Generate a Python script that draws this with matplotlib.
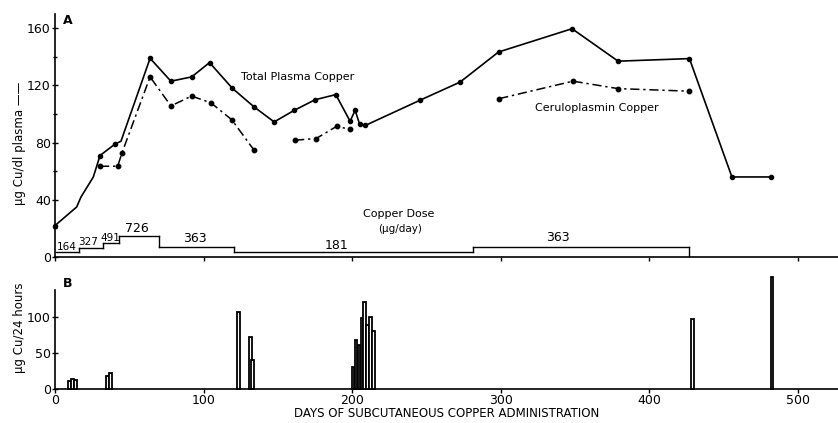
import matplotlib
matplotlib.use("Agg")
import matplotlib.pyplot as plt
import numpy as np

# ---------------- data ----------------
total_day = [0, 14.6, 17.5, 25.8, 30.3, 40.4, 44.4, 64, 78, 92, 104, 119.4, 134, 147.5,
             161, 175, 189, 198.6, 202, 205, 208.8, 245.5, 272.7, 298.5, 348, 379, 427, 455.6, 482]
total_val = [22, 35, 42, 56, 71, 79, 81, 139, 123, 126, 136, 118, 105, 94.5,
             102.6, 110, 113.6, 95, 102.6, 93, 92, 109.6, 122.4, 143.4, 159.7, 137, 138.8, 56, 56]
total_marked = [0, 30.3, 40.4, 64, 78, 92, 104, 119.4, 134, 147.5, 161, 175, 189, 198.6,
                202, 205, 208.8, 245.5, 272.7, 298.5, 348, 379, 427, 455.6, 482]

cerulo_seg1_day = [30.3, 42.2, 45, 64, 78, 92, 105, 119, 134]
cerulo_seg1_val = [63.5, 63.5, 72.6, 126, 105.7, 112.6, 107.8, 96, 74.7]
cerulo_seg2_day = [161.6, 175.8, 189.7, 198.6]
cerulo_seg2_val = [81.7, 82.9, 91.5, 89.2]
cerulo_seg3_day = [299, 348.6, 379, 427]
cerulo_seg3_val = [110.8, 123, 117.8, 116]

dose_start = [1, 16.4, 32, 43.3, 70.2, 120.7, 281]
dose_end = [16.4, 32, 43.3, 70.2, 120.7, 281, 427]
dose_ug = [164, 327, 491, 726, 363, 181, 363]
dose_label_day = [7.6, 22.5, 37.6, 55, 94.3, 189.7, 338.7]
dose_label_val = [7.2, 10.3, 13.5, 19.6, 12.6, 7.9, 13.3]
dose_labels = ["164", "327", "491", "726", "363", "181", "363"]

urine_day = [10, 12, 14, 35.5, 37.5, 123.4, 131.6, 133.2,
             200.6, 202.6, 204.6, 206.6, 208.2, 210.2, 212.3, 214.4, 429, 482.6]
urine_val = [10, 13, 12, 18, 21, 107, 72, 40,
             30, 68, 60, 98, 120, 88, 100, 80, 97, 155]

xticks = [0, 100, 200, 300, 400, 500]

# ---------------- figure ----------------
plt.rcParams['font.family'] = ['DejaVu Sans']
fig = plt.figure(figsize=(8.38, 4.23), dpi=100)
W, H = 838, 423
x0 = 55 / W
axA = fig.add_axes([x0, 1 - 257 / H, 1 - x0, (257 - 14) / H])
axB = fig.add_axes([x0, 1 - 388.5 / H, 1 - x0, (388.5 - 290) / H])

XMAX = 527
for ax in (axA, axB):
    ax.set_xlim(0, XMAX)
    ax.spines['top'].set_visible(False)
    ax.spines['right'].set_visible(False)
    ax.spines['left'].set_linewidth(1.2)
    ax.spines['bottom'].set_linewidth(1.2)
    ax.set_xticks(xticks)
    ax.tick_params(axis='both', labelsize=9, width=1, length=4, direction='inout', pad=1)

# Panel A
axA.set_ylim(0, 170)
axA.set_yticks([0, 40, 80, 120, 160])
axA.set_yticks([20, 60, 100, 140], minor=True)
axA.tick_params(axis='y', which='minor', length=3, direction='inout', width=1)
axA.tick_params(axis='x', labelbottom=False, direction='out', length=3)

axA.plot(total_day, total_val, color='black', lw=1.2, clip_on=False, zorder=3)
mk_idx = [total_day.index(d) for d in total_marked]
axA.plot([total_day[i] for i in mk_idx], [total_val[i] for i in mk_idx], ls='none',
         marker='o', ms=3, color='black', clip_on=False, zorder=4)
for dd, vv in ((cerulo_seg1_day, cerulo_seg1_val), (cerulo_seg2_day, cerulo_seg2_val),
               (cerulo_seg3_day, cerulo_seg3_val)):
    axA.plot(dd, vv, color='black', lw=1.1, ls=(0, (6, 2.5, 1.5, 2.5)),
             marker='o', ms=3.2, zorder=3)

# dose step line
scale = 50.0
for s, e, d in zip(dose_start, dose_end, dose_ug):
    axA.plot([s, e], [d / scale, d / scale], color='black', lw=1.0)
for i in range(len(dose_ug) - 1):
    if dose_end[i] == dose_start[i + 1]:
        axA.plot([dose_end[i], dose_end[i]], [dose_ug[i] / scale, dose_ug[i + 1] / scale],
                 color='black', lw=1.0)
axA.plot([dose_end[-1], dose_end[-1]], [dose_ug[-1] / scale, 0], color='black', lw=1.0)
label_sizes = [7.5, 7.5, 7.5, 9, 9, 9, 9]
for x, y, t, fs in zip(dose_label_day, dose_label_val, dose_labels, label_sizes):
    axA.text(x, y, t, ha='center', va='center', fontsize=fs)

axA.text(8.8, 165.6, "A", fontsize=9, fontweight='bold', ha='center', va='center')
axA.text(163.6, 125.7, "Total Plasma Copper", fontsize=8, ha='center', va='center')
axA.text(365, 104, "Ceruloplasmin Copper", fontsize=8, ha='center', va='center')
axA.text(231, 30, "Copper Dose", fontsize=8, ha='center', va='center')
axA.text(232, 19.6, "(\u00b5g/day)", fontsize=7.5, ha='center', va='center')

fig.text(20 / W, 1 - 143 / H, "\u00b5g Cu/dl plasma \u2014\u2014", rotation=90,
         ha='center', va='center', fontsize=8.5)

# Panel B
axB.set_ylim(0, 137)
axB.set_yticks([0, 50, 100])
axB.tick_params(axis='x', direction='out', length=3)
axB.bar(urine_day, urine_val, width=1.9, facecolor='white', edgecolor='black',
        linewidth=1.3, clip_on=False, zorder=3)
axB.text(8.8, 146, "B", fontsize=9, fontweight='bold', ha='center', va='center',
         clip_on=False)
axB.set_xlabel("DAYS OF SUBCUTANEOUS COPPER ADMINISTRATION", fontsize=8.5, labelpad=0)
fig.text(20 / W, 1 - 328 / H, "\u00b5g Cu/24 hours", rotation=90,
         ha='center', va='center', fontsize=8.5)

fig.savefig("out.png", dpi=100)
